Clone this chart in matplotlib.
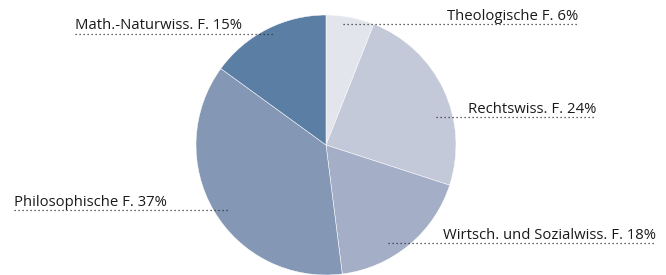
import matplotlib.pyplot as plt

labels = ['Theologische F.', 'Rechtswiss. F.', 'Wirtsch. und Sozialwiss. F.',
          'Philosophische F.', 'Math.-Naturwiss. F.']
shares = [6, 24, 18, 37, 15]
colors = ['#e3e5ec', '#c4c9d9', '#a4afc7', '#8497b4', '#5b7fa4']

# label text anchor (x, y) and dotted underline span (x0, x1, y), in pixels from top-left
label_pos = [(578, 20, 'right'), (596, 113, 'right'), (656, 239, 'right'),
             (14, 206, 'left'), (75, 29, 'left')]
line_pos = [(343, 578, 24), (436, 596, 117), (388, 656, 243),
            (14, 228, 210), (75, 275, 34)]

W, H = 666, 275
fig = plt.figure(figsize=(W / 100, H / 100), dpi=100)
ax = fig.add_axes([0, 0, 1, 1])
ax.set_xlim(0, W)
ax.set_ylim(0, H)
ax.set_aspect('equal')
ax.axis('off')

ax.pie(shares, colors=colors, startangle=90, counterclock=False,
       center=(326, 130), radius=130,
       wedgeprops=dict(edgecolor='white', linewidth=0.35))
ax.set_xlim(0, W)
ax.set_ylim(0, H)

for lab, s, (x, y, ha), (x0, x1, ly) in zip(labels, shares, label_pos, line_pos):
    ax.text(x, H - y, f'{lab} {s}%', ha=ha, va='baseline', fontsize=10.7,
            color='#1a1a1a', family='Open Sans')
    ax.plot([x0, x1], [H - ly, H - ly], color='#333333', linewidth=0.9,
            linestyle=(0, (1, 2.2)))

fig.savefig('out.png', dpi=100)
